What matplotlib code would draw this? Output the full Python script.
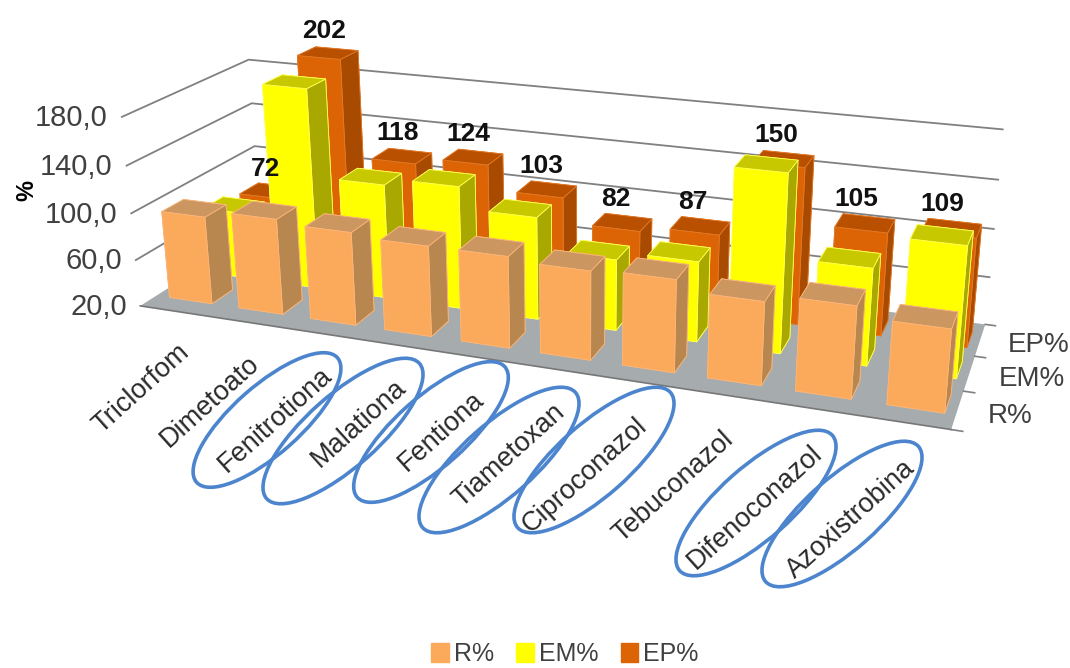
import numpy as np
import matplotlib
matplotlib.use("Agg")
import matplotlib.pyplot as plt
from matplotlib.patches import Ellipse, Patch
from mpl_toolkits.mplot3d import proj3d

plt.rcParams["font.family"] = ["Liberation Sans", "DejaVu Sans"]

W, H = 1070, 668

categories = ["Triclorfom", "Dimetoato", "Fenitrotiona", "Malationa", "Fentiona",
              "Tiametoxan", "Ciproconazol", "Tebuconazol", "Difenoconazol", "Azoxistrobina"]
series = ["R%", "EM%", "EP%"]
r_values = [95, 101, 98, 95, 95, 92, 94, 86, 92, 84]
em_values = [78, 192, 118, 124, 106, 79, 86, 164, 98, 124]
ep_values = [72, 202, 118, 124, 103, 82, 87, 150, 105, 109]
z_ticks = [20, 60, 100, 140, 180]
z_labels = ["20,0", "60,0", "100,0", "140,0", "180,0"]

# ellipses around selected compounds: centre x, centre y, long and short axis in pixels
circled = [(267, 420, 188, 68), (343, 431, 204, 72), (431, 432, 197, 70),
           (499, 460, 204, 72), (594, 460, 204, 72),
           (756, 503, 204, 72), (842, 514, 204, 72)]

face_colors = {
    "R%": ("#FBA95B", "#B8864F", "#CC9660", "#FBB679"),
    "EM%": ("#FFFF00", "#A8A800", "#C8C800", "#FFFF50"),
    "EP%": ("#DD6405", "#A84A00", "#B85000", "#E27A28"),
}
rows = {"R%": (0.37, r_values), "EM%": (1.30, em_values), "EP%": (2.22, ep_values)}

fig = plt.figure(figsize=(W / 100, H / 100), dpi=100)

# camera and axes box for the perspective view
scale, cx, cy = 4659.8, 555.0, 221.0
side = scale * 0.185
left = cx - 0.095 * scale
bottom = H - cy - 0.095 * scale
ax = fig.add_axes([left / W, bottom / H, side / W, side / H],
                  projection="3d", computed_zorder=False)
ax.set_xlim(0, 10)
ax.set_ylim(0, 3)
ax.set_zlim(20, 180)
ax.view_init(19.71, -69.398, 0.334)
ax.set_proj_type("persp", focal_length=0.355)
ax.set_box_aspect((1, 0.297, 0.246))
ax.set_axis_off()
proj = ax.get_proj()


def to_fig(x, y, z, dx=0, dy=0):
    # 3D data point to figure fraction, with an optional pixel nudge
    u, v, _ = proj3d.proj_transform(x, y, z, proj)
    px, py = ax.transData.transform((u, v))
    return (px + dx) / W, (py - dy) / H


# floor and gridlines
ax.plot_surface(np.array([[0, 10], [0, 10]]), np.array([[0, 0], [3, 3]]),
                np.full((2, 2), 20), color="#A6ABAE", shade=False, zorder=0, clip_on=False)
ax.plot([0, 10], [0, 0], [20, 20], color="#777777", lw=1.2, zorder=1, clip_on=False)
for z in z_ticks[1:]:
    ax.plot([0, 0, 10], [0, 3, 3], [z, z, z], color="#808080", lw=1.3, zorder=1, clip_on=False)
for y in range(4):
    ax.plot([10, 10.12], [y, y], [20, 20], color="#808080", lw=1.2, zorder=1, clip_on=False)

# bars, back row first
width, depth = 0.62, 0.5
for name in reversed(series):
    y0, vals = rows[name]
    front, shade_c, top, edge = face_colors[name]
    for i, v in enumerate(vals):
        cols = [front, top, front, front, shade_c, shade_c]
        ax.bar3d(0.19 + i * 1.008, y0, 20, width, depth, v - 20,
                 color=cols, edgecolor=edge, linewidth=0.6, shade=False,
                 zorder=10 - y0 + i * 0.01, clip_on=False)

for i, v in enumerate(ep_values):
    fx, fy = to_fig(i + 0.5, 2.5, v + 6, dx=-4, dy=-3)
    fig.text(fx, fy, str(v), fontsize=19, fontweight="bold", ha="center", va="bottom",
             color="#111111")

for z, lab in zip(z_ticks, z_labels):
    fx, fy = to_fig(-0.2, 0, z, dy=3)
    fig.text(fx, fy, lab, fontsize=21, ha="right", va="center", color="#404040")

for i, lab in enumerate(categories):
    fx, fy = to_fig(i + 0.62, 0, -8, dx=-9, dy=-5)
    fig.text(fx, fy, lab, fontsize=19.5, rotation=42, rotation_mode="anchor",
             ha="right", va="top", color="#2A2A2A")

for row, lab in enumerate(series):
    fx, fy = to_fig(10.25, row + 0.5, 14, dx=7, dy=-5)
    fig.text(fx, fy, lab, fontsize=20, ha="left", va="center", color="#404040")

# overlay in pixel coordinates for the hand-drawn ellipses
ov = fig.add_axes([0, 0, 1, 1], facecolor="none")
ov.set_xlim(0, W)
ov.set_ylim(H, 0)
ov.axis("off")
for ex, ey, long_axis, short_axis in circled:
    ov.add_patch(Ellipse((ex, ey), long_axis, short_axis, angle=-41.5, fill=False,
                         ec="#4C85CE", lw=2.6))
fig.text(27 / W, 1 - 190 / H, "%", rotation=90, fontsize=17, fontweight="bold",
         ha="center", va="center")

handles = [Patch(color=face_colors[s][0], label=s) for s in series]
fig.legend(handles=handles, loc="center", bbox_to_anchor=(565 / W, 1 - 654 / H), ncol=3,
           frameon=False, fontsize=18, handlelength=0.7, handleheight=0.8,
           handletextpad=0.2, columnspacing=0.9, labelcolor="#404040")

fig.savefig("out.png", dpi=100)
